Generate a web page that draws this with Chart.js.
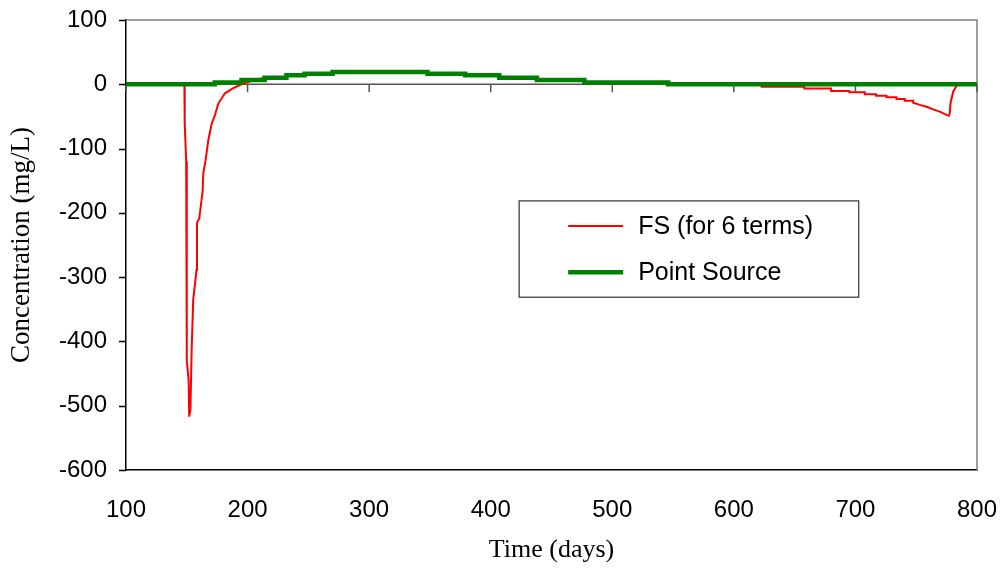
<html>
	<head>
		<script src="https://cdn.jsdelivr.net/npm/chart.js"></script>
		<style>
			body { margin:0; background:#fff; }
			#chart { display:block; }
		</style>
	</head>
	<body>
		<canvas id="chart" width="1003" height="572"></canvas>
	</body>
	<script>
		// Data (days, mg/L)
		let fsDays = [100, 148, 148.3, 149.5, 150, 151.5, 152, 153, 154, 155.3, 158, 158.4, 160.3, 163, 163.6, 165.5, 167.7, 170.5, 173.2, 175.9, 181.4, 188.2, 195, 203, 214, 232, 232, 247, 247, 270, 270, 348, 348, 379, 379, 407, 407, 438, 438, 477, 477, 546, 546, 622, 622.8, 658, 658, 680, 680, 695, 695, 707.7, 707.7, 717, 717, 725.6, 725.6, 733.8, 733.8, 740.6, 740.6, 747.5, 747.5, 753, 758.5, 763.9, 769.4, 774.9, 776.8, 777.6, 778.2, 780.4, 783.1, 785, 800];
		let fsConc = [0, 0, -60, -120, -430, -460, -517, -506, -413, -335, -289, -216, -208, -167, -138, -118, -87, -61, -48, -30, -14, -6, 0, 5, 10, 10, 14, 14, 16.5, 16.5, 19, 19, 16.5, 16.5, 14, 14, 10, 10, 6.5, 6.5, 2.7, 2.7, 0, 0, -4, -4, -6.5, -6.5, -10.4, -10.4, -12.5, -12.5, -15.6, -15.6, -17.7, -17.7, -20, -20, -23, -23, -25.5, -25.5, -28.6, -32, -35, -39, -42.6, -47.7, -49, -45, -29.5, -11.5, -2.6, 0, 0];

		let psDays = [100, 173, 173, 195, 195, 214, 214, 232, 232, 247, 247, 270, 270, 348, 348, 379, 379, 407, 407, 438, 438, 477, 477, 546, 546, 800];
		let psConc = [0, 0, 2.7, 2.7, 6.5, 6.5, 10, 10, 14, 14, 16.5, 16.5, 19, 19, 16.5, 16.5, 14, 14, 10, 10, 6.5, 6.5, 2.7, 2.7, 0, 0];

		let seriesNames = ["FS (for 6 terms)", "Point Source"];
		let xTitle = "Time (days)";
		let yTitle = "Concentration (mg/L)";

		const toPoints = (xs, ys) => xs.map((x, i) => ({x: x, y: ys[i]}));

		const SANS = "'Liberation Sans', Arial, sans-serif";
		const SERIF = "'Liberation Serif', 'Times New Roman', serif";

		// zero axis with tick marks, y tick marks, grey top/right frame
		const frame = {
			id: 'frame',
			beforeDatasetsDraw(chart) {
				const ctx = chart.ctx, a = chart.chartArea, xs = chart.scales.x, ys = chart.scales.y;
				const y0 = ys.getPixelForValue(0);
				ctx.save();
				ctx.strokeStyle = '#808080';
				ctx.lineWidth = 1.5;
				ctx.beginPath();
				ctx.moveTo(a.left, a.top); ctx.lineTo(a.right, a.top); ctx.lineTo(a.right, a.bottom);
				ctx.stroke();
				ctx.strokeStyle = '#555';
				ctx.beginPath();
				ctx.moveTo(a.left, y0); ctx.lineTo(a.right, y0);
				xs.ticks.forEach(t => {
					const px = xs.getPixelForValue(t.value);
					ctx.moveTo(px, y0); ctx.lineTo(px, y0 + 8);
				});
				ctx.stroke();
				ctx.strokeStyle = '#000';
				ctx.beginPath();
				ys.ticks.forEach(t => {
					const py = Math.round(ys.getPixelForValue(t.value)) + 0.5;
					ctx.moveTo(a.left - 7, py); ctx.lineTo(a.left, py);
				});
				ctx.stroke();
				ctx.restore();
			}
		};

		// boxed legend inside the plot
		const boxLegend = {
			id: 'boxLegend',
			afterDraw(chart) {
				const ctx = chart.ctx, a = chart.chartArea;
				const w = a.right - a.left, h = a.bottom - a.top;
				const L = a.left + 0.462 * w, R = a.left + 0.861 * w;
				const T = a.top + 0.402 * h, B = a.top + 0.616 * h;
				ctx.save();
				ctx.fillStyle = '#fff';
				ctx.fillRect(L, T, R - L, B - T);
				ctx.strokeStyle = '#333';
				ctx.lineWidth = 1.2;
				ctx.strokeRect(L, T, R - L, B - T);
				ctx.font = '25px ' + SANS;
				ctx.textBaseline = 'middle';
				chart.data.datasets.forEach((ds, i) => {
					const yy = T + (B - T) * (0.26 + 0.48 * i);
					ctx.strokeStyle = ds.borderColor;
					ctx.lineWidth = ds.borderWidth;
					ctx.beginPath();
					ctx.moveTo(L + 49, yy); ctx.lineTo(L + 104, yy);
					ctx.stroke();
					ctx.fillStyle = '#000';
					ctx.fillText(ds.label, L + 119, yy + 1);
				});
				ctx.restore();
			}
		};

		new Chart(document.getElementById('chart'), {
			type: 'line',
			data: {
				datasets: [
					{ label: seriesNames[0], data: toPoints(fsDays, fsConc), borderColor: '#ff0000', borderWidth: 2, order: 1 },
					{ label: seriesNames[1], data: toPoints(psDays, psConc), borderColor: '#008000', borderWidth: 4.5, order: 0 }
				]
			},
			options: {
				responsive: false,
				animation: false,
				elements: { point: { radius: 0 }, line: { tension: 0, borderCapStyle: 'butt', borderJoinStyle: 'miter' } },
				layout: { padding: { top: 20, right: 26, left: 0, bottom: 0 } },
				plugins: { legend: { display: false }, tooltip: { enabled: false } },
				scales: {
					x: {
						type: 'linear', min: 100, max: 800,
						afterFit: s => { s.height = 102; },
						ticks: { stepSize: 100, color: '#000', font: { family: SANS, size: 24 }, padding: 0, maxRotation: 0 },
						grid: { display: true, drawOnChartArea: false, drawTicks: true, tickLength: 26, color: 'transparent' },
						border: { color: '#000', width: 1.5 },
						title: { display: true, text: xTitle, color: '#000', font: { family: SERIF, size: 26 }, padding: { top: 0, bottom: 6 } }
					},
					y: {
						min: -600, max: 100,
						afterFit: s => { s.width = 126; },
						ticks: { stepSize: 100, color: '#000', font: { family: SANS, size: 24 }, padding: 0 },
						grid: { display: true, drawOnChartArea: false, drawTicks: true, tickLength: 19, color: 'transparent' },
						border: { color: '#000', width: 1.5 },
						title: { display: true, text: yTitle, color: '#000', font: { family: SERIF, size: 27 }, padding: { top: 6, bottom: 0 } }
					}
				}
			},
			plugins: [frame, boxLegend]
		});
	</script>
</html>
